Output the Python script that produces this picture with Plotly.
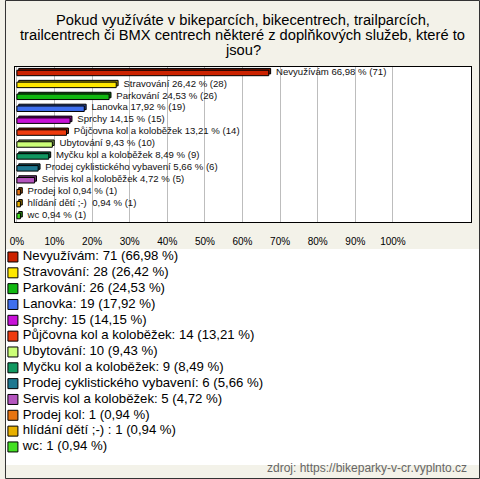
import plotly.graph_objects as go

categories = ["Nevyužívám", "Stravování", "Parkování", "Lanovka", "Sprchy",
              "Půjčovna kol a koloběžek", "Ubytování", "Myčku kol a koloběžek",
              "Prodej cyklistického vybavení", "Servis kol a koloběžek",
              "Prodej kol", "hlídání dětí ;-) ", "wc"]
counts = [71, 28, 26, 19, 15, 14, 10, 9, 6, 5, 1, 1, 1]
percents = [66.98, 26.42, 24.53, 17.92, 14.15, 13.21, 9.43, 8.49, 5.66, 4.72, 0.94, 0.94, 0.94]
tick_values = [0, 10, 20, 30, 40, 50, 60, 70, 80, 90, 100]
tick_labels = ["0%", "10%", "20%", "30%", "40%", "50%", "60%", "70%", "80%", "90%", "100%"]
title_lines = ["Pokud využíváte v bikeparcích, bikecentrech, trailparcích,",
               "trailcentrech či BMX centrech některé z doplňkových služeb, které to",
               "jsou?"]
source_text = "zdroj: https://bikeparky-v-cr.vyplnto.cz"

colors = ["#CC2200", "#FFE800", "#11B811", "#3F6FEE", "#C811D8", "#EE3A0E",
          "#CCFF77", "#109860", "#1E7890", "#B455BE", "#E87410", "#E8B000", "#44E022"]

def darken(hexc, f=0.6):
    r, g, b = int(hexc[1:3], 16), int(hexc[3:5], 16), int(hexc[5:7], 16)
    return "#%02x%02x%02x" % (int(r * f), int(g * f), int(b * f))

W, H = 480, 479
BG = "#F3F2E9"
FONT = "Liberation Sans, Arial, sans-serif"
GAP = "\u00a0\u00a0"

def fmt(p):
    return f"{p:.2f}".replace(".", ",")

idx = list(range(len(categories)))
bar_text = [f"{GAP}{c} {fmt(p)} % ({n})" for c, p, n in zip(categories, percents, counts)]
legend_text = [f"{c}: {n} ({fmt(p)} %)" for c, p, n in zip(categories, percents, counts)]

bw = 0.46
depth_y = 0.15
depth_x = 0.5

fig = go.Figure()
# 3D depth (back face) - carries the value labels
fig.add_trace(go.Bar(
    x=percents, y=idx, orientation="h", base=depth_x, width=bw,
    offset=-bw / 2 - depth_y,
    marker=dict(color=[darken(c) for c in colors], line=dict(color="black", width=1)),
    text=bar_text, textposition="outside", constraintext="none", cliponaxis=False,
    textfont=dict(family=FONT, size=9.6, color="#111"),
    hoverinfo="skip", showlegend=False))
# front face
fig.add_trace(go.Bar(
    x=percents, y=idx, orientation="h", base=0, width=bw, offset=-bw / 2,
    marker=dict(color=colors, line=dict(color="black", width=1)),
    hoverinfo="skip", showlegend=False))

# legend drawn as scatter traces on their own axes
fig.add_trace(go.Scatter(
    x=[8] * len(idx), y=idx, mode="markers", xaxis="x2", yaxis="y2",
    marker=dict(symbol="square", size=10, color=colors, line=dict(color="black", width=1)),
    hoverinfo="skip", showlegend=False, cliponaxis=False))
fig.add_trace(go.Scatter(
    x=[18] * len(idx), y=idx, mode="text", xaxis="x2", yaxis="y2",
    text=legend_text, textposition="middle right",
    textfont=dict(family=FONT, size=13.2, color="black"),
    hoverinfo="skip", showlegend=False, cliponaxis=False))

px_per_pct = 3.8
x0_px = 12
annotations = []
for i, line in enumerate(title_lines):
    annotations.append(dict(text=line, x=0.5, y=1 - (20 + 15 * i) / H, xref="paper", yref="paper",
                            xanchor="center", yanchor="middle", showarrow=False,
                            font=dict(family=FONT, size=14.7, color="black")))
annotations.append(dict(text=source_text, x=1 - 11 / W, y=1 - 468 / H, xref="paper", yref="paper",
                        xanchor="right", yanchor="middle", showarrow=False,
                        font=dict(family=FONT, size=12, color="#666666")))

fig.update_layout(
    width=W, height=H, margin=dict(l=0, r=0, t=0, b=0),
    paper_bgcolor=BG, plot_bgcolor="white",
    barmode="overlay", showlegend=False,
    font=dict(family=FONT, color="black"),
    xaxis=dict(domain=[10 / W, 471 / W],
               range=[(10 - x0_px) / px_per_pct, (471 - x0_px) / px_per_pct],
               tickvals=tick_values, ticktext=tick_labels, showgrid=True, gridcolor="#BDBDBD",
               gridwidth=1, zeroline=False, showline=True, mirror=True, linecolor="black",
               linewidth=1, ticks="", ticklabelstandoff=10,
               tickfont=dict(family=FONT, size=10, color="black")),
    yaxis=dict(domain=[1 - 222 / H, 1 - 67 / H], range=[12.5, -0.5],
               showticklabels=False, showgrid=False, zeroline=False, showline=True,
               mirror=True, linecolor="black", linewidth=1),
    xaxis2=dict(domain=[0, 1], range=[0, W], visible=False, anchor="y2"),
    yaxis2=dict(domain=[1 - 465 / H, 1 - 249 / H], range=[13.14, -0.505],
                visible=False, anchor="x2"),
    annotations=annotations,
    shapes=[dict(type="rect", xref="paper", yref="paper",
                 x0=0.5 / W, x1=1 - 0.5 / W, y0=0.5 / H, y1=1 - 0.5 / H,
                 line=dict(color="#333333", width=1), layer="above")],
)

fig.write_html("out.html", config={"displayModeBar": False},
               post_script="document.body.style.margin='0';")
